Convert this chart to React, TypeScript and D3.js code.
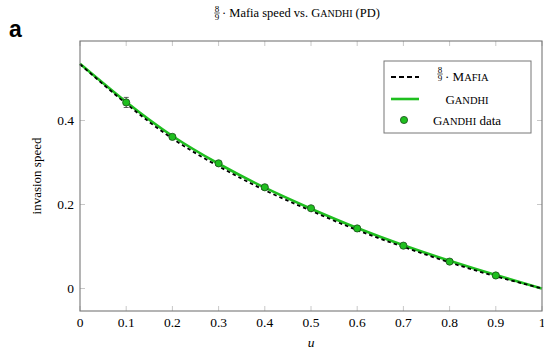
import React from "react";
import * as d3 from "d3";

const uGrid = [0, 0.1, 0.2, 0.3, 0.4, 0.5, 0.6, 0.7, 0.8, 0.9, 1.0];
const gandhiCurve = [0.535, 0.444, 0.363, 0.297, 0.240, 0.190, 0.144, 0.103, 0.066, 0.032, 0.0];
const mafiaCurve = [0.534, 0.440, 0.357, 0.291, 0.234, 0.185, 0.139, 0.099, 0.062, 0.029, 0.0];
const dataU = [0.1, 0.2, 0.3, 0.4, 0.5, 0.6, 0.7, 0.8, 0.9];
const dataV = [0.443, 0.361, 0.298, 0.241, 0.191, 0.143, 0.102, 0.064, 0.031];
const dataErr = [0.012, 0.005, 0.004, 0.003, 0.003, 0.003, 0.003, 0.002, 0.002];
const xTicks = [0, 0.1, 0.2, 0.3, 0.4, 0.5, 0.6, 0.7, 0.8, 0.9, 1];
const yTicks = [0, 0.2, 0.4];

const GREEN = "#1fbf1f";
const SERIF = "Liberation Serif, Times New Roman, DejaVu Serif, serif";

function Frac({ x, y, size }: { x: number; y: number; size: number }) {
  return (
    <g fontFamily={SERIF} fontSize={size} textAnchor="middle">
      <text x={x} y={y - 1.2}>8</text>
      <line x1={x - 2.8} x2={x + 2.8} y1={y} y2={y} stroke="#000" strokeWidth={0.6} />
      <text x={x} y={y + size * 0.82}>9</text>
    </g>
  );
}

export default function App() {
  const L = 80, R = 542, T = 41, B = 311;
  const x = d3.scaleLinear().domain([0, 1]).range([L, R]);
  const y = d3.scaleLinear().domain([-0.0536, 0.5893]).range([B, T]);
  const line = d3
    .line<number>()
    .x((_, i) => x(uGrid[i]))
    .y((d) => y(d))
    .curve(d3.curveNatural);

  const tickLen = 5;
  return (
    <svg width={544} height={352} style={{ position: "absolute", left: 0, top: 0 }}>
      <rect width={544} height={352} fill="#fff" />
      <text x={9} y={37} fontFamily="Liberation Sans, Arial, sans-serif" fontWeight="bold" fontSize={23}>a</text>

      {/* title */}
      <Frac x={217} y={13} size={9} />
      <text x={222} y={17} fontFamily={SERIF} fontSize={12.5}>
        · Mafia speed vs. G<tspan fontSize={10}>ANDHI</tspan> (PD)
      </text>

      {/* ticks */}
      {xTicks.map((t) => (
        <g key={"xt" + t} stroke="#c8c8c8" strokeWidth={1}>
          <line x1={x(t)} x2={x(t)} y1={B} y2={B - tickLen} />
          <line x1={x(t)} x2={x(t)} y1={T} y2={T + tickLen} />
        </g>
      ))}
      {yTicks.map((t) => (
        <g key={"yt" + t} stroke="#c8c8c8" strokeWidth={1}>
          <line x1={L} x2={L + tickLen} y1={y(t)} y2={y(t)} />
          <line x1={R} x2={R - tickLen} y1={y(t)} y2={y(t)} />
        </g>
      ))}

      {/* curves */}
      <path d={line(gandhiCurve) || ""} fill="none" stroke={GREEN} strokeWidth={2.6} />
      <path d={line(mafiaCurve) || ""} fill="none" stroke="#000" strokeWidth={1.8} strokeDasharray="3.5,3" />

      {/* data */}
      {dataU.map((u, i) => (
        <g key={"d" + u}>
          <g stroke="#333" strokeWidth={0.8}>
            <line x1={x(u)} x2={x(u)} y1={y(dataV[i] - dataErr[i])} y2={y(dataV[i] + dataErr[i])} />
            <line x1={x(u) - 2.5} x2={x(u) + 2.5} y1={y(dataV[i] - dataErr[i])} y2={y(dataV[i] - dataErr[i])} />
            <line x1={x(u) - 2.5} x2={x(u) + 2.5} y1={y(dataV[i] + dataErr[i])} y2={y(dataV[i] + dataErr[i])} />
          </g>
          <circle cx={x(u)} cy={y(dataV[i])} r={3.6} fill={GREEN} stroke="#1a4a1a" strokeWidth={0.8} />
        </g>
      ))}

      {/* axis box */}
      <rect x={L} y={T} width={R - L} height={B - T} fill="none" stroke="#777" strokeWidth={1.1} />

      {/* tick labels */}
      {xTicks.map((t) => (
        <text key={"xl" + t} x={x(t)} y={327} textAnchor="middle" fontFamily={SERIF} fontSize={13.5}>
          {String(t)}
        </text>
      ))}
      {yTicks.map((t) => (
        <text key={"yl" + t} x={74} y={y(t) + 4.5} textAnchor="end" fontFamily={SERIF} fontSize={13.5}>
          {String(t)}
        </text>
      ))}
      <text x={x(0.5)} y={347} textAnchor="middle" fontFamily={SERIF} fontStyle="italic" fontSize={13.5}>u</text>
      <text transform={`translate(41,${(T + B) / 2}) rotate(-90)`} textAnchor="middle" fontFamily={SERIF} fontSize={13}>
        invasion speed
      </text>

      {/* legend */}
      <rect x={384} y={61} width={147} height={72} fill="#fff" stroke="#777" strokeWidth={1} />
      <line x1={391} x2={419} y1={77} y2={77} stroke="#000" strokeWidth={1.8} strokeDasharray="5,3" />
      <Frac x={440} y={74} size={9} />
      <text x={445} y={81} fontFamily={SERIF} fontSize={13}>
        · M<tspan fontSize={10.5}>AFIA</tspan>
      </text>
      <line x1={391} x2={419} y1={99} y2={99} stroke={GREEN} strokeWidth={2.6} />
      <text x={467} y={103.5} textAnchor="middle" fontFamily={SERIF} fontSize={13}>
        G<tspan fontSize={10.5}>ANDHI</tspan>
      </text>
      <circle cx={404} cy={120} r={3.6} fill={GREEN} stroke="#1a4a1a" strokeWidth={0.8} />
      <text x={467} y={124.5} textAnchor="middle" fontFamily={SERIF} fontSize={13}>
        G<tspan fontSize={10.5}>ANDHI</tspan> data
      </text>
    </svg>
  );
}
